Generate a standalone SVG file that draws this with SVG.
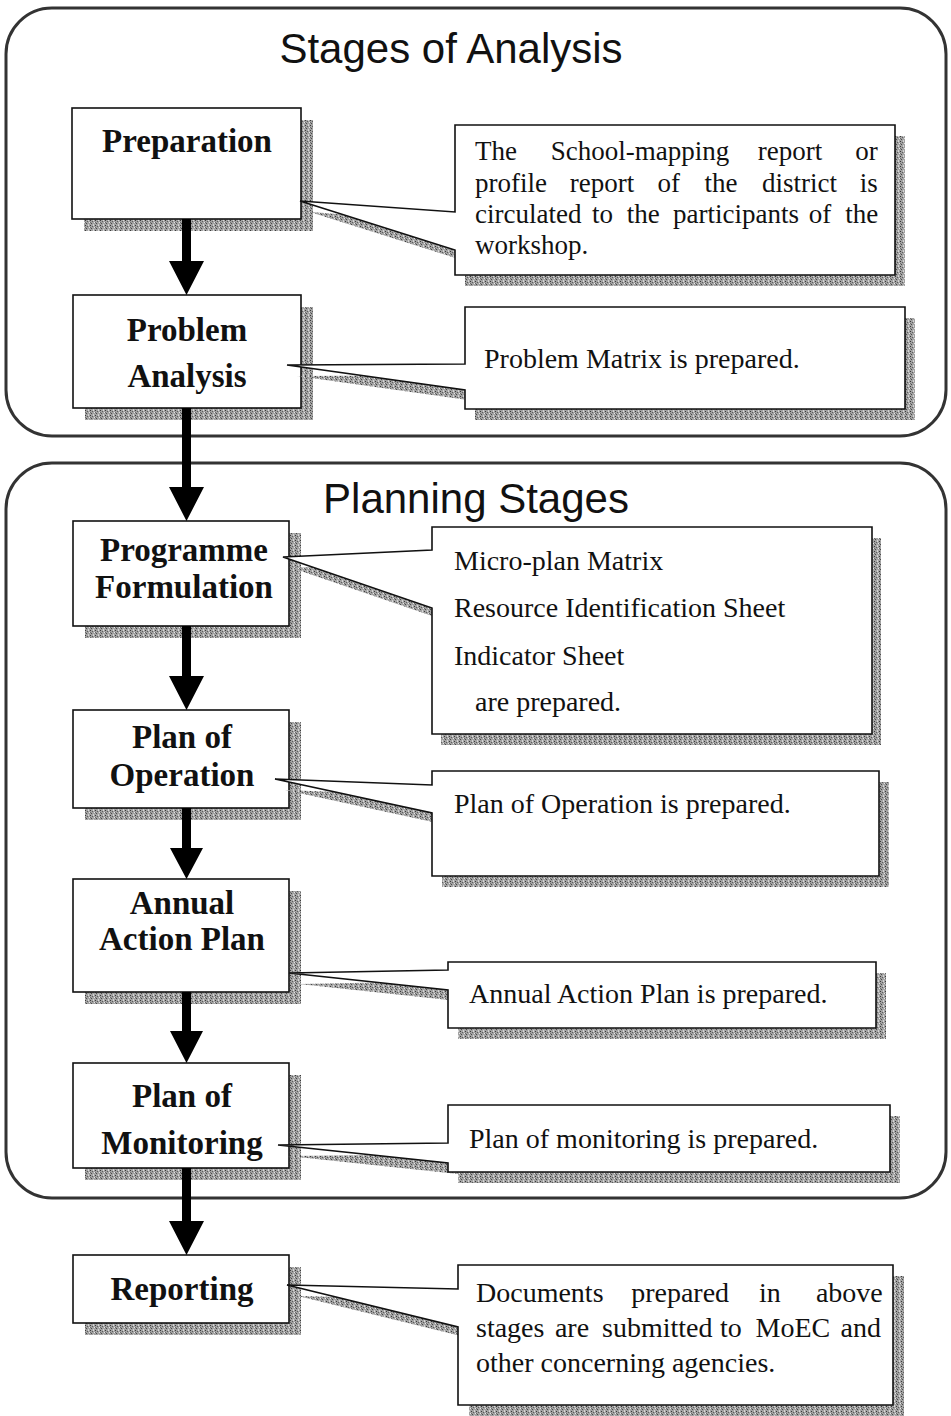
<svg xmlns="http://www.w3.org/2000/svg" width="951" height="1416" viewBox="0 0 951 1416">
<defs>
<pattern id="speck" width="5" height="5" patternUnits="userSpaceOnUse">
<rect width="5" height="5" fill="#a2a2a2"/>
<rect x="0" y="0" width="1" height="1" fill="#3a3a3a"/>
<rect x="2" y="1" width="1" height="1" fill="#5e5e5e"/>
<rect x="4" y="2" width="1" height="1" fill="#e8e8e8"/>
<rect x="1" y="3" width="1" height="1" fill="#4a4a4a"/>
<rect x="3" y="4" width="1" height="1" fill="#d0d0d0"/>
<rect x="3" y="0" width="1" height="1" fill="#dadada"/>
<rect x="0" y="2" width="1" height="1" fill="#6a6a6a"/>
</pattern>
<style>
.frame{fill:none;stroke:#333;stroke-width:3}
.title{font-family:"Liberation Sans",Arial,sans-serif;font-size:42px;fill:#111;text-anchor:middle}
.box{fill:#fff;stroke:#111;stroke-width:1.6}
.shadow{fill:url(#speck)}
.lbl{font-family:"Liberation Serif","Times New Roman",serif;font-weight:bold;font-size:33px;fill:#111;text-anchor:middle}
.txt{font-family:"Liberation Serif","Times New Roman",serif;font-size:28px;fill:#111}
.txt2{font-family:"Liberation Serif","Times New Roman",serif;font-size:27px;fill:#111}
.arrow{fill:#000}
</style>
</defs>
<rect width="951" height="1416" fill="#fff"/>

<g id="stages-of-analysis">
<rect class="frame" x="6" y="8" width="940" height="428" rx="46"/>
<text class="title" x="451" y="63">Stages of Analysis</text>
</g>
<g id="planning-stages">
<rect class="frame" x="6" y="463" width="940" height="735" rx="46"/>
<text class="title" x="476" y="513">Planning Stages</text>
</g>

<g id="preparation">
<rect class="shadow" x="84" y="120" width="229" height="111"/>
<rect class="box" x="72" y="108" width="229" height="111"/>
<text class="lbl" x="187" y="152">Preparation</text>
</g>
<g id="problem-analysis">
<rect class="shadow" x="85" y="307" width="228" height="113"/>
<rect class="box" x="73" y="295" width="228" height="113"/>
<text class="lbl" x="187" y="341">Problem</text>
<text class="lbl" x="187" y="387">Analysis</text>
</g>
<g id="programme-formulation">
<rect class="shadow" x="85" y="533" width="216" height="105"/>
<rect class="box" x="73" y="521" width="216" height="105"/>
<text class="lbl" x="184" y="561">Programme</text>
<text class="lbl" x="184" y="598">Formulation</text>
</g>
<g id="plan-of-operation">
<rect class="shadow" x="85" y="722" width="216" height="98"/>
<rect class="box" x="73" y="710" width="216" height="98"/>
<text class="lbl" x="182" y="748">Plan of</text>
<text class="lbl" x="182" y="786">Operation</text>
</g>
<g id="annual-action-plan">
<rect class="shadow" x="85" y="891" width="216" height="113"/>
<rect class="box" x="73" y="879" width="216" height="113"/>
<text class="lbl" x="182" y="914">Annual</text>
<text class="lbl" x="182" y="950">Action Plan</text>
</g>
<g id="plan-of-monitoring">
<rect class="shadow" x="85" y="1075" width="216" height="105"/>
<rect class="box" x="73" y="1063" width="216" height="105"/>
<text class="lbl" x="182" y="1107">Plan of</text>
<text class="lbl" x="182" y="1154">Monitoring</text>
</g>
<g id="reporting">
<rect class="shadow" x="85" y="1267" width="216" height="68"/>
<rect class="box" x="73" y="1255" width="216" height="68"/>
<text class="lbl" x="182" y="1300">Reporting</text>
</g>

<g id="note-preparation">
<path class="shadow" transform="translate(10,11)" d="M455,125 H895 V275 H455 V250 L300,201 L455,212 Z"/>
<path class="box" d="M455,125 H895 V275 H455 V250 L300,201 L455,212 Z"/>
<text class="txt2" y="160"><tspan x="475">The</tspan><tspan x="550.7">School-mapping</tspan><tspan x="757.8">report</tspan><tspan x="855.3">or</tspan></text>
<text class="txt2" y="192"><tspan x="475">profile</tspan><tspan x="569.8">report</tspan><tspan x="657.4">of</tspan><tspan x="704.6">the</tspan><tspan x="761.9">district</tspan><tspan x="859.7">is</tspan></text>
<text class="txt2" y="223"><tspan x="475">circulated</tspan><tspan x="592">to</tspan><tspan x="626.7">the</tspan><tspan x="673">participants</tspan><tspan x="808.8">of</tspan><tspan x="845.2">the</tspan></text>
<text class="txt2" x="475" y="254">workshop.</text>
</g>
<g id="note-problem-analysis">
<path class="shadow" transform="translate(10,11)" d="M465,307 H905 V409 H465 V390 L287,365 L465,364 Z"/>
<path class="box" d="M465,307 H905 V409 H465 V390 L287,365 L465,364 Z"/>
<text class="txt" x="484" y="368">Problem Matrix is prepared.</text>
</g>
<g id="note-programme-formulation">
<path class="shadow" transform="translate(9,11)" d="M432,527 H872 V734 H432 V608 L283,557 L432,550 Z"/>
<path class="box" d="M432,527 H872 V734 H432 V608 L283,557 L432,550 Z"/>
<text class="txt" x="454" y="570">Micro-plan Matrix</text>
<text class="txt" x="454" y="617">Resource Identification Sheet</text>
<text class="txt" x="454" y="665">Indicator Sheet</text>
<text class="txt" x="475" y="711">are prepared.</text>
</g>
<g id="note-plan-of-operation">
<path class="shadow" transform="translate(10,11)" d="M432,771 H879 V876 H432 V813 L275,779 L432,785 Z"/>
<path class="box" d="M432,771 H879 V876 H432 V813 L275,779 L432,785 Z"/>
<text class="txt" x="454" y="813">Plan of Operation is prepared.</text>
</g>
<g id="note-annual-action-plan">
<path class="shadow" transform="translate(10,11)" d="M448,962 H876 V1028 H448 V990 L289,973 L448,970 Z"/>
<path class="box" d="M448,962 H876 V1028 H448 V990 L289,973 L448,970 Z"/>
<text class="txt" x="469" y="1003">Annual Action Plan is prepared.</text>
</g>
<g id="note-plan-of-monitoring">
<path class="shadow" transform="translate(10,11)" d="M448,1105 H890 V1172 H448 V1163 L278,1145 L448,1143 Z"/>
<path class="box" d="M448,1105 H890 V1172 H448 V1163 L278,1145 L448,1143 Z"/>
<text class="txt" x="469" y="1148">Plan of monitoring is prepared.</text>
</g>
<g id="note-reporting">
<path class="shadow" transform="translate(11,11)" d="M458,1265 H893 V1405 H458 V1327 L287,1285 L458,1289 Z"/>
<path class="box" d="M458,1265 H893 V1405 H458 V1327 L287,1285 L458,1289 Z"/>
<text class="txt" y="1302"><tspan x="476">Documents</tspan><tspan x="631.2">prepared</tspan><tspan x="758.9">in</tspan><tspan x="815.9">above</tspan></text>
<text class="txt" y="1337"><tspan x="476">stages</tspan><tspan x="554.9">are</tspan><tspan x="602">submitted</tspan><tspan x="720">to</tspan><tspan x="755.6">MoEC</tspan><tspan x="840.5">and</tspan></text>
<text class="txt" x="476" y="1372">other concerning agencies.</text>
</g>

<g id="connectors">
<path class="arrow" d="M182,219 H191 V261 H204 L186.5,295 L169,261 H182 Z"/>
<path class="arrow" d="M182,408 H191 V487 H204 L186.5,521 L169,487 H182 Z"/>
<path class="arrow" d="M182,626 H191 V676 H204 L186.5,710 L169,676 H182 Z"/>
<path class="arrow" d="M182,808 H191 V848 H203 L186.5,879 L170,848 H182 Z"/>
<path class="arrow" d="M182,992 H191 V1031 H203 L186.5,1063 L170,1031 H182 Z"/>
<path class="arrow" d="M182,1168 H191 V1221 H204 L186.5,1255 L169,1221 H182 Z"/>
</g>
</svg>
